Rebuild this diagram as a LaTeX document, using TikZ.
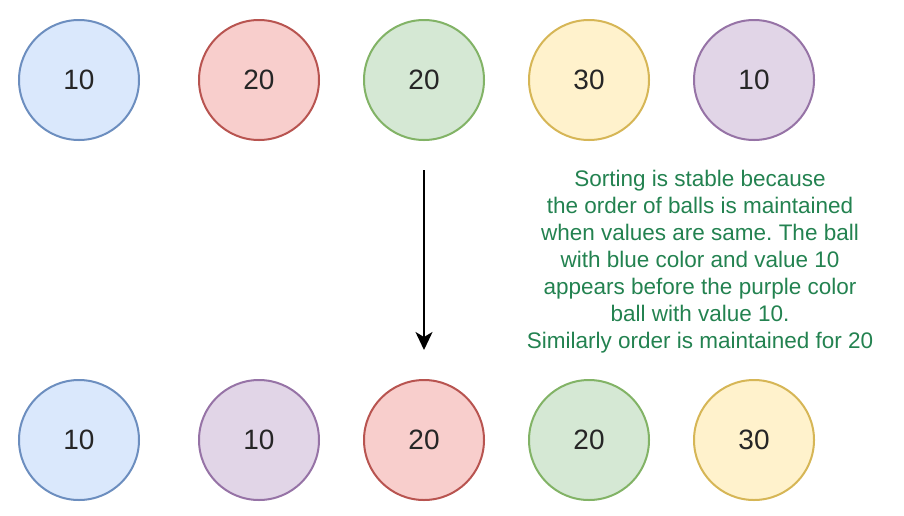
\documentclass[tikz,border=0pt]{standalone}
\usepackage{fontspec}
\setmainfont{Liberation Sans}
\usepackage{xcolor}
\usetikzlibrary{arrows.meta}
\frenchspacing
\definecolor{bluefill}{HTML}{DAE8FC}\definecolor{bluedraw}{HTML}{6C8EBF}
\definecolor{redfill}{HTML}{F8CECC}\definecolor{reddraw}{HTML}{B85450}
\definecolor{greenfill}{HTML}{D5E8D4}\definecolor{greendraw}{HTML}{82B366}
\definecolor{yellowfill}{HTML}{FFF2CC}\definecolor{yellowdraw}{HTML}{D6B656}
\definecolor{purplefill}{HTML}{E1D5E7}\definecolor{purpledraw}{HTML}{9673A6}
\definecolor{notegreen}{RGB}{35,130,80}
\tikzset{
  ball/.style={circle, line width=2pt, minimum size=120pt, inner sep=0pt,
    font=\fontsize{28}{32}\selectfont, text=black!85},
  blueball/.style={ball, fill=bluefill, draw=bluedraw},
  redball/.style={ball, fill=redfill, draw=reddraw},
  greenball/.style={ball, fill=greenfill, draw=greendraw},
  yellowball/.style={ball, fill=yellowfill, draw=yellowdraw},
  purpleball/.style={ball, fill=purplefill, draw=purpledraw},
}
\begin{document}
\begin{tikzpicture}[x=1pt,y=-1pt]
			\useasboundingbox (0,0) rectangle (904,515);
			% before sorting
			\node [blueball] (t1) at (79,80) {10};
			\node [redball] (t2) at (259,80) {20};
			\node [greenball] (t3) at (424,80) {20};
			\node [yellowball] (t4) at (589,80) {30};
			\node [purpleball] (t5) at (754,80) {10};
			% after sorting
			\node [blueball] (b1) at (79,440) {10};
			\node [purpleball] (b2) at (259,440) {10};
			\node [redball] (b3) at (424,440) {20};
			\node [greenball] (b4) at (589,440) {20};
			\node [yellowball] (b5) at (754,440) {30};
			\coordinate (arrtop) at (424,170);
			\coordinate (arrtip) at (424,350);
			\draw [line width=2pt, -{Stealth[length=18pt,width=17pt,inset=5pt]}] (arrtop) -- (arrtip);
			\node [notegreen, align=center, font=\fontsize{22.5}{27}\selectfont] (note) at (700,262)
				{Sorting is stable because\\the order of balls is maintained\\when values are same. The ball\\with blue color and value 10\\appears before the purple color\\ball with value 10.\\Similarly order is maintained for 20};
		\end{tikzpicture}
\end{document}
